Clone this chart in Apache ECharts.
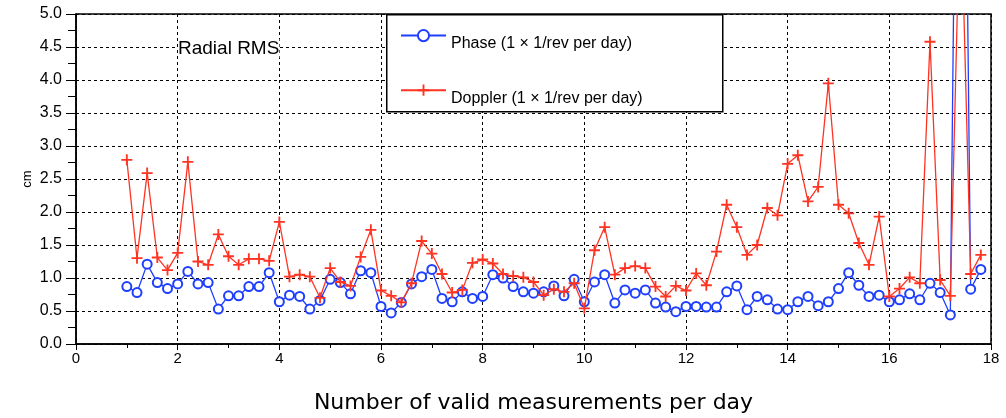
<!DOCTYPE html>
<html>
<head>
<meta charset="utf-8">
<script src="https://cdn.jsdelivr.net/npm/echarts@6/dist/echarts.min.js"></script>
<style>
html,body{margin:0;padding:0;background:#fff;}
#chart{width:1006px;height:418px;}
</style>
</head>
<body>
<div id="chart"></div>
<script>
// Number of valid measurements per day (x positions of samples)
var xs = [1.0,1.2,1.4,1.6,1.8,2.0,2.2,2.4,2.6,2.8,3.0,3.2,3.4,3.6,3.8,4.0,4.2,4.4,4.6,4.8,
          5.0,5.2,5.4,5.6,5.8,6.0,6.2,6.4,6.6,6.8,7.0,7.2,7.4,7.6,7.8,8.0,8.2,8.4,8.6,8.8,
          9.0,9.2,9.4,9.6,9.8,10.0,10.2,10.4,10.6,10.8,11.0,11.2,11.4,11.6,11.8,12.0,12.2,12.4,12.6,12.8,
          13.0,13.2,13.4,13.6,13.8,14.0,14.2,14.4,14.6,14.8,15.0,15.2,15.4,15.6,15.8,16.0,16.2,16.4,16.6,16.8,
          17.0,17.2,17.4,17.6,17.8];
// Radial RMS (cm), Phase (1 x 1/rev per day)
var phase = [0.87,0.78,1.21,0.93,0.84,0.91,1.10,0.91,0.93,0.53,0.73,0.73,0.87,0.87,1.08,0.64,0.74,0.72,0.53,0.66,
             0.98,0.93,0.76,1.11,1.08,0.57,0.47,0.63,0.91,1.02,1.13,0.69,0.64,0.79,0.69,0.72,1.05,1.00,0.87,0.79,
             0.77,0.79,0.88,0.73,0.98,0.64,0.94,1.05,0.62,0.82,0.77,0.82,0.62,0.56,0.49,0.57,0.57,0.56,0.56,0.79,
             0.88,0.52,0.72,0.67,0.53,0.52,0.64,0.72,0.58,0.64,0.84,1.08,0.89,0.72,0.74,0.64,0.67,0.76,0.67,0.92,
             0.78,0.44,15.0,0.83,1.13];
// Radial RMS (cm), Doppler (1 x 1/rev per day)
var doppler = [2.79,1.30,2.59,1.31,1.12,1.38,2.76,1.25,1.20,1.66,1.33,1.20,1.29,1.29,1.26,1.85,1.02,1.05,1.02,0.70,
               1.15,0.94,0.88,1.32,1.73,0.81,0.73,0.63,0.92,1.56,1.37,1.06,0.78,0.82,1.23,1.28,1.22,1.06,1.03,1.01,
               0.94,0.74,0.83,0.79,0.92,0.54,1.42,1.77,1.05,1.15,1.18,1.15,0.87,0.72,0.88,0.81,1.07,0.89,1.40,2.11,
               1.77,1.35,1.50,2.06,1.95,2.73,2.86,2.16,2.38,3.95,2.11,1.98,1.53,1.20,1.93,0.72,0.84,1.01,0.92,4.58,
               0.97,0.73,7.0,1.06,1.35];
var seriesNames = ['Phase (1 \u00d7 1/rev per day)', 'Doppler (1 \u00d7 1/rev per day)'];
var chartTitle = 'Radial RMS';
var xTitle = 'Number of valid measurements per day';
var yTitle = 'cm';

var BLUE = '#1f3fff', RED = '#ff3322';
var plusPath = 'path://M5,0 H7 V5 H12 V7 H7 V12 H5 V7 H0 V5 H5 Z';
function pairs(arr){ return arr.map(function(v,i){ return [xs[i], v]; }); }

var chart = echarts.init(document.getElementById('chart'), null, {renderer:'canvas'});
var gridLine = {show:true, lineStyle:{color:'#000', width:1, type:[3,3]}};
chart.setOption({
  backgroundColor:'#fff',
  animation:false,
  textStyle:{fontFamily:'Liberation Sans, Arial, sans-serif'},
  grid:{left:76, right:15, top:14, bottom:74, show:true, borderColor:'#000', borderWidth:1.5,
        backgroundColor:'transparent', containLabel:false, outerBoundsMode:'none'},
  xAxis:{
    type:'value', min:0, max:18, interval:2,
    name:xTitle, nameLocation:'middle', nameGap:48, nameMoveOverlap:false,
    nameTextStyle:{fontFamily:'DejaVu Sans, sans-serif', fontSize:22, color:'#000'},
    axisLine:{lineStyle:{color:'#000', width:1.5}},
    axisTick:{length:6, lineStyle:{color:'#000'}},
    minorTick:{show:true, splitNumber:2, length:4, lineStyle:{color:'#000'}},
    axisLabel:{margin:7, fontFamily:'Liberation Sans Narrow, Liberation Sans, sans-serif', fontSize:15, color:'#000'},
    splitLine:gridLine
  },
  yAxis:{
    type:'value', min:0, max:5, interval:0.5,
    name:yTitle, nameLocation:'middle', nameGap:42, nameRotate:90, nameMoveOverlap:false,
    nameTextStyle:{fontSize:13, color:'#000'},
    axisLine:{lineStyle:{color:'#000', width:1.5}},
    axisTick:{length:10, lineStyle:{color:'#000'}},
    minorTick:{show:true, splitNumber:2, length:8, lineStyle:{color:'#000'}},
    axisLabel:{margin:14, fontSize:16, color:'#000', formatter:function(v){return v.toFixed(1);}},
    splitLine:gridLine
  },
  legend:{
    orient:'vertical', left:395, top:24, itemWidth:45, itemHeight:14, itemGap:33, z:20,
    formatter:'{t|{name}}',
    textStyle:{fontSize:16, color:'#000', rich:{t:{fontSize:16, color:'#000', padding:[16,0,0,0]}}},
    data:seriesNames
  },
  graphic:[
    {type:'rect', left:386, top:14, z:15, shape:{width:336, height:97}, style:{fill:'#fff', stroke:'#000', lineWidth:1.5}},
    {type:'text', left:178, top:39, z:15, style:{text:chartTitle, font:'19px "Liberation Sans", Arial, sans-serif', fill:'#000', backgroundColor:'#fff'}}
  ],
  series:[
    {name:seriesNames[0], type:'line', data:pairs(phase), clip:true, z:3,
     symbol:'emptyCircle', symbolSize:9,
     lineStyle:{color:BLUE, width:1.3}, itemStyle:{color:BLUE, borderColor:BLUE, borderWidth:1.2}},
    {name:seriesNames[1], type:'line', data:pairs(doppler), clip:true, z:4,
     symbol:plusPath, symbolSize:11,
     lineStyle:{color:RED, width:1.3}, itemStyle:{color:RED}}
  ]
});
</script>
</body>
</html>
